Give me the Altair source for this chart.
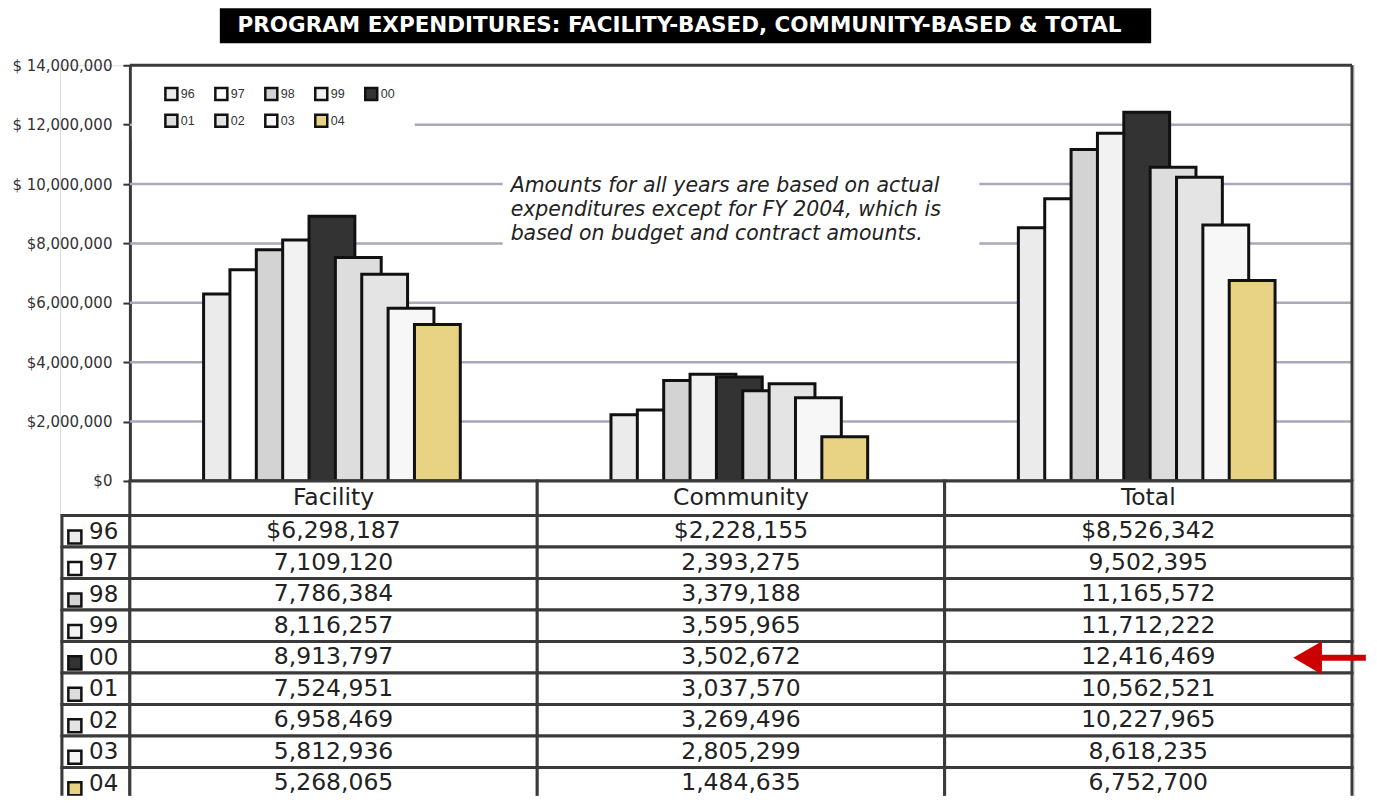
import altair as alt
import pandas as pd

# ---------------- data ----------------
years = ['96', '97', '98', '99', '00', '01', '02', '03', '04']
categories = ['Facility', 'Community', 'Total']
facility = [6298187, 7109120, 7786384, 8116257, 8913797, 7524951, 6958469, 5812936, 5268065]
community = [2228155, 2393275, 3379188, 3595965, 3502672, 3037570, 3269496, 2805299, 1484635]
total = [8526342, 9502395, 11165572, 11712222, 12416469, 10562521, 10227965, 8618235, 6752700]
year_colors = ['#ebebeb', '#ffffff', '#d3d3d3', '#f2f2f2', '#333333',
               '#dddddd', '#e4e4e4', '#f7f7f7', '#e8d283']
y_ticks = [0, 2000000, 4000000, 6000000, 8000000, 10000000, 12000000, 14000000]
title_text = 'PROGRAM EXPENDITURES:  FACILITY-BASED, COMMUNITY-BASED & TOTAL'
note_text = ('Amounts for all years are based on actual\n'
             'expenditures except for FY 2004, which is\n'
             'based on budget and contract amounts.')
highlight_year = '00'

series = {'Facility': facility, 'Community': community, 'Total': total}

# ---------------- layout helpers ----------------
UNIT_PX = 408.0
LEFT_COL = -68 / UNIT_PX
PAD_U = 2 / UNIT_PX
X_DOMAIN = [LEFT_COL - PAD_U, 3 + PAD_U]
W = 1295
BAR_H = 416            # plot part for the bars
TABLE_H = 315          # plot part for the table
H = BAR_H + TABLE_H
ROW_PX = 31.5
HDR_H = 1.1
Y_MAX = 14000000
MONEY_DOMAIN = [-Y_MAX * TABLE_H / BAR_H, Y_MAX]
ROW_DOMAIN = [-BAR_H / ROW_PX, TABLE_H / ROW_PX]
BAR_START, BAR_STEP, BAR_W = 0.181, 0.0647, 0.1125

bar_rows = []
for g, cat in enumerate(categories):
    for i, yr in enumerate(years):
        x0 = g + BAR_START + i * BAR_STEP
        bar_rows.append(dict(category=cat, year=yr, value=series[cat][i], base=0,
                             x0=x0, x1=x0 + BAR_W))
bars_df = pd.DataFrame(bar_rows)

xscale = alt.Scale(domain=X_DOMAIN, nice=False, zero=False)
yscale = alt.Scale(domain=MONEY_DOMAIN, nice=False, zero=False)
tyscale = alt.Scale(domain=ROW_DOMAIN, nice=False, zero=False, reverse=True)

FRAME = '#3a3a3a'
one = pd.DataFrame({'k': [0]})

# ---------------- bar part ----------------
y_axis = alt.Axis(values=y_ticks, offset=-70, title=None, grid=False,
                  domainColor=FRAME, domainWidth=3, tickColor='#333', tickWidth=2,
                  tickSize=7, labelPadding=11, labelFont='DejaVu Sans', labelFontSize=15,
                  labelColor='#333',
                  labelExpr="datum.value >= 10000000 ? '$ ' + format(datum.value, ',') : '$' + format(datum.value, ',')")

title_box = alt.Chart(one).mark_rect(color='black').encode(
    x=alt.value(160), x2=alt.value(1092), y=alt.value(-57), y2=alt.value(-22))
title_txt = alt.Chart(pd.DataFrame({'t': [title_text]})).mark_text(
    color='white', font='DejaVu Sans', fontWeight='bold', fontSize=21.5,
    align='center', baseline='middle').encode(
    x=alt.value(620), y=alt.value(-39), text='t:N')

grid_df = pd.DataFrame({'v': y_ticks[1:-1], 'x0': 0, 'x1': 3})
grid = alt.Chart(grid_df).mark_rule(color='#a9a9ba', strokeWidth=2.5).encode(
    y=alt.Y('v:Q', scale=yscale, axis=y_axis),
    x=alt.X('x0:Q', scale=xscale, axis=None), x2='x1:Q')

legend_bg = alt.Chart(one).mark_rect(fill='white').encode(
    x=alt.value(72), x2=alt.value(355), y=alt.value(2), y2=alt.value(75))
note_bg = alt.Chart(one).mark_rect(fill='white').encode(
    x=alt.value(443), x2=alt.value(920), y=alt.value(105), y2=alt.value(185))
note = alt.Chart(pd.DataFrame({'n': [note_text]})).mark_text(
    align='left', baseline='middle', font='DejaVu Sans', fontStyle='italic',
    fontSize=20.5, lineHeight=24, color='#222', lineBreak='\n').encode(
    x=alt.value(451), y=alt.value(121), text='n:N')

bars = alt.Chart(bars_df).mark_rect(stroke='#111', strokeWidth=3).encode(
    x=alt.X('x0:Q', scale=xscale, axis=None),
    x2='x1:Q',
    y=alt.Y('value:Q', scale=yscale, axis=y_axis),
    y2='base:Q',
    fill=alt.Fill('year:N', scale=alt.Scale(domain=years, range=year_colors),
                  legend=alt.Legend(orient='none', legendX=104, legendY=21, columns=5,
                                    direction='horizontal', title=None,
                                    symbolType='square', symbolSize=144,
                                    symbolStrokeColor='#111', symbolStrokeWidth=2.5,
                                    symbolOpacity=1, labelFont='Liberation Sans',
                                    labelFontSize=12.5, labelColor='#333', labelOffset=2,
                                    columnPadding=15, rowPadding=4, padding=0)))

frame_df = pd.DataFrame({'x0': [0, 3, 0], 'x1': [3, 3, 3],
                         'y0': [Y_MAX, 0, 0], 'y1': [Y_MAX, Y_MAX, 0]})
frame = alt.Chart(frame_df).mark_rule(color=FRAME, strokeWidth=3).encode(
    x=alt.X('x0:Q', scale=xscale, axis=None), x2='x1:Q',
    y=alt.Y('y0:Q', scale=yscale, axis=y_axis), y2='y1:Q')

bar_part = alt.layer(title_box, title_txt, grid, legend_bg, note_bg, note, bars, frame)

# ---------------- table part ----------------
cells, texts, syms = [], [], []
for g, cat in enumerate(categories):
    cells.append(dict(x0=g, x1=g + 1, t=0, b=HDR_H))
    texts.append(dict(xc=g + 0.5, yc=HDR_H / 2, label=cat))
for k, yr in enumerate(years):
    top = HDR_H + k
    cells.append(dict(x0=LEFT_COL, x1=0, t=top, b=top + 1))
    syms.append(dict(year=yr, xs=-0.135, ys=top + 0.68, xl=-0.1, yl=top + 0.52))
    for g, cat in enumerate(categories):
        v = series[cat][k]
        lab = ('$' if k == 0 else '') + f'{v:,}'
        cells.append(dict(x0=g, x1=g + 1, t=top, b=top + 1))
        texts.append(dict(xc=g + 0.5, yc=top + 0.5, label=lab))
cells_df = pd.DataFrame(cells)
texts_df = pd.DataFrame(texts)
syms_df = pd.DataFrame(syms)

cell_layer = alt.Chart(cells_df).mark_rect(
    fill='white', stroke=FRAME, strokeWidth=3, clip=True).encode(
    x=alt.X('x0:Q', scale=xscale, axis=None), x2='x1:Q',
    y=alt.Y('t:Q', scale=tyscale, axis=None), y2='b:Q')
text_layer = alt.Chart(texts_df).mark_text(
    font='DejaVu Sans', fontSize=23.5, color='#222', baseline='middle', clip=True).encode(
    x=alt.X('xc:Q', scale=xscale, axis=None),
    y=alt.Y('yc:Q', scale=tyscale, axis=None), text='label:N')
sym_layer = alt.Chart(syms_df).mark_point(
    shape='square', filled=True, size=170, stroke='#111', strokeWidth=2.5,
    opacity=1, clip=True).encode(
    x=alt.X('xs:Q', scale=xscale, axis=None),
    y=alt.Y('ys:Q', scale=tyscale, axis=None),
    color=alt.Color('year:N', scale=alt.Scale(domain=years, range=year_colors), legend=None))
year_layer = alt.Chart(syms_df).mark_text(
    font='DejaVu Sans', fontSize=23, color='#222', align='left', baseline='middle',
    clip=True).encode(
    x=alt.X('xl:Q', scale=xscale, axis=None),
    y=alt.Y('yl:Q', scale=tyscale, axis=None), text='year:N')

hl = syms_df[syms_df['year'] == highlight_year][['yl']].copy()
hl['tip'] = 2.891
hl['s0'] = 2.925
hl['s1'] = 3.034
arrow_head = alt.Chart(hl).mark_point(
    shape='triangle-left', size=1100, filled=True, color='#cc0000', opacity=1).encode(
    x=alt.X('tip:Q', scale=xscale, axis=None),
    y=alt.Y('yl:Q', scale=tyscale, axis=None))
arrow_shaft = alt.Chart(hl).mark_rule(color='#cc0000', strokeWidth=6).encode(
    x=alt.X('s0:Q', scale=xscale, axis=None), x2='s1:Q',
    y=alt.Y('yl:Q', scale=tyscale, axis=None))

table_part = alt.layer(cell_layer, text_layer, sym_layer, year_layer,
                       arrow_shaft, arrow_head)

chart = alt.layer(bar_part, table_part).resolve_scale(y='independent').properties(
    width=W, height=H,
    padding={'left': 3, 'top': 0, 'right': 0, 'bottom': 0}).configure_view(
    stroke=None).configure(font='DejaVu Sans')

chart.save('out.html', embed_options={'renderer': 'svg', 'actions': False})
